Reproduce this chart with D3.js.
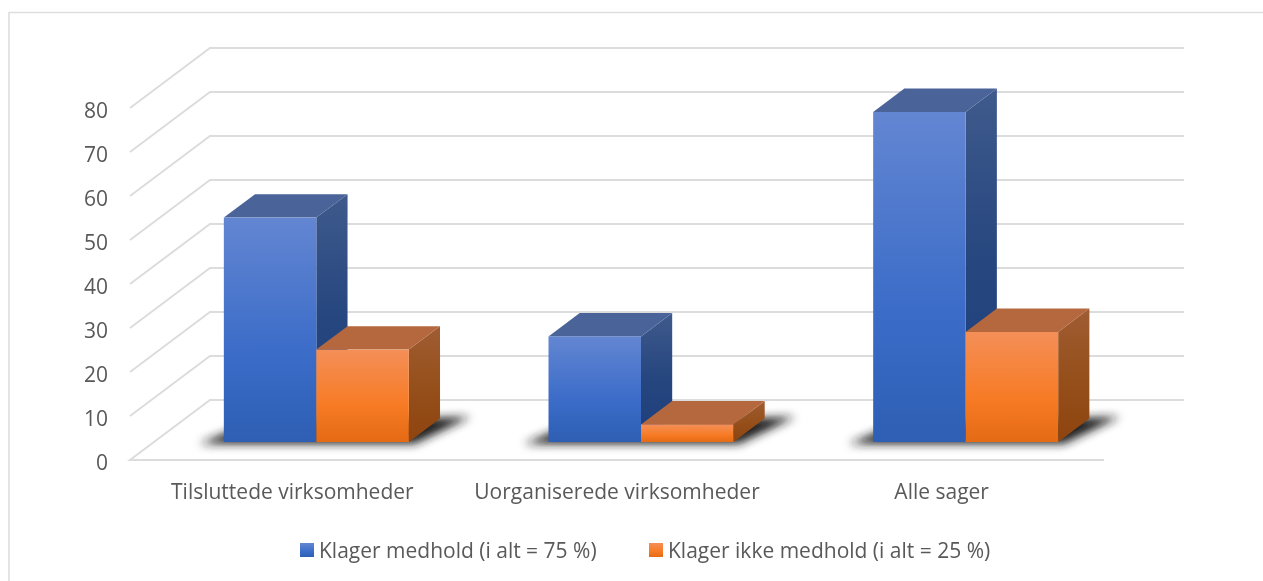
<!DOCTYPE html>
<html lang="en">
<head>
	<meta charset="UTF-8">
	<title>Klager</title>
	<style>
		html, body { margin: 0; padding: 0; background: #fff; overflow: hidden; }
		svg { filter: blur(0.4px); }
		text { font-family: "Open Sans", sans-serif; fill: #595959; }
	</style>
</head>
<body>
	<svg id="cont" width="1263" height="581"></svg>
</body>
<script src="https://cdn.jsdelivr.net/npm/d3@7"></script>
<script>
	const categories = ["Tilsluttede virksomheder", "Uorganiserede virksomheder", "Alle sager"];
	const seriesNames = ["Klager medhold (i alt = 75 %)", "Klager ikke medhold (i alt = 25 %)"];
	const medhold = [51, 24, 75];
	const ikkeMedhold = [21, 4, 25];
	const yTicks = [0, 10, 20, 30, 40, 50, 60, 70, 80];

	let svg = d3.select("#cont");

	// frame round the chart, no right side in the picture
	svg.append("path")
		.attr("d", "M9,581V12.5H1263")
		.attr("fill", "none")
		.attr("stroke", "#dedede")
		.attr("stroke-width", 1.6);

	// floor is a sheared plane: depth 0 = front edge, depth 1 = back wall
	const depthX = 80, depthY = -60;
	let xscale = d3.scaleBand().domain(categories).range([130, 1104]);
	let inner = d3.scaleBand().domain(seriesNames).range([0, xscale.bandwidth()]).paddingOuter(0.755);
	let yscale = d3.scaleLinear().domain([0, 80]).range([460, 108]);

	function project(x, v, depth) {
		return [x + depth * depthX, yscale(v) + depth * depthY];
	}
	let line = d3.line();

	// gradients
	let defs = svg.append("defs");
	function gradient(id, stops, x2, y2) {
		let g = defs.append("linearGradient").attr("id", id)
			.attr("x1", 0).attr("y1", 0).attr("x2", x2).attr("y2", y2);
		stops.forEach(s => g.append("stop").attr("offset", s[0]).attr("stop-color", s[1]));
	}
	gradient("front0", [[0, "#6386d2"], [0.6, "#3b6cc8"], [1, "#2e5fb4"]], 0, 1);
	gradient("front1", [[0, "#f48f58"], [0.6, "#f77b25"], [1, "#e56a14"]], 0, 1);
	gradient("side0", [[0, "#3f5a8c"], [0.5, "#26467f"], [1, "#1f3f7e"]], 0, 1);
	gradient("side1", [[0, "#a05c33"], [0.5, "#96501c"], [1, "#8e440f"]], 0, 1);
	defs.append("filter").attr("id", "blur")
		.attr("x", "-20%").attr("y", "-60%").attr("width", "140%").attr("height", "220%")
		.append("feGaussianBlur").attr("stdDeviation", 5);

	// gridlines
	let grid = svg.append("g").attr("fill", "none").attr("stroke", "#dcdcdc").attr("stroke-width", 2);
	grid.selectAll("path").data(yTicks).enter().append("path")
		.attr("d", d => d == 0
			? line([project(1104, d, 0), project(130, d, 0), project(130, d, 1), project(1104, d, 1)])
			: line([project(130, d, 0), project(130, d, 1), project(1104, d, 1)]));

	// y labels
	svg.append("g").selectAll("text").data(yTicks).enter().append("text")
		.attr("x", 108)
		.attr("y", d => yscale(d))
		.attr("dy", 9.5)
		.attr("text-anchor", "end")
		.attr("font-size", 21)
		.text(d => d);

	// x labels
	svg.append("g").selectAll("text").data(categories).enter().append("text")
		.attr("x", d => xscale(d) + xscale.bandwidth() / 2)
		.attr("y", 499)
		.attr("text-anchor", "middle")
		.attr("font-size", 21)
		.text(d => d);

	const bFront = 0.3, bBack = 0.69;

	categories.forEach((c, i) => {
		let g = svg.append("g");
		let left = xscale(c) + inner(seriesNames[0]);
		let right = xscale(c) + inner(seriesNames[1]) + inner.bandwidth();

		// floor shadow
		g.append("path")
			.attr("d", line([
				project(left - 22, 0, 0.27), project(right + 8, 0, 0.27),
				project(right + 28, 0, 0.72), project(left, 0, 0.6)
			]) + "Z")
			.attr("fill", "#1c1c1c")
			.attr("filter", "url(#blur)");

		[medhold[i], ikkeMedhold[i]].forEach((v, s) => {
			let x0 = xscale(c) + inner(seriesNames[s]);
			let x1 = x0 + inner.bandwidth();
			// side
			g.append("path")
				.attr("d", line([project(x1, 0, bFront), project(x1, v, bFront), project(x1, v, bBack), project(x1, 0, bBack)]) + "Z")
				.attr("fill", "url(#side" + s + ")");
			// top
			g.append("path")
				.attr("d", line([project(x0, v, bFront), project(x1, v, bFront), project(x1, v, bBack), project(x0, v, bBack)]) + "Z")
				.attr("fill", s == 0 ? "#4a6399" : "#b5683e");
			// front
			let p = project(x0, v, bFront);
			let b = project(x0, 0, bFront);
			g.append("rect")
				.attr("x", p[0])
				.attr("y", p[1])
				.attr("width", inner.bandwidth())
				.attr("height", b[1] - p[1])
				.attr("fill", "url(#front" + s + ")");
		});
	});

	// legend
	let legendX = [300, 649];
	let legend = svg.append("g").selectAll("g").data(seriesNames).enter().append("g")
		.attr("transform", (d, i) => "translate(" + legendX[i] + ",543)");
	legend.append("rect")
		.attr("width", 14).attr("height", 14)
		.attr("fill", (d, i) => "url(#front" + i + ")");
	legend.append("text")
		.attr("x", 19).attr("y", 15)
		.attr("font-size", 21)
		.text(d => d);
</script>
</html>
